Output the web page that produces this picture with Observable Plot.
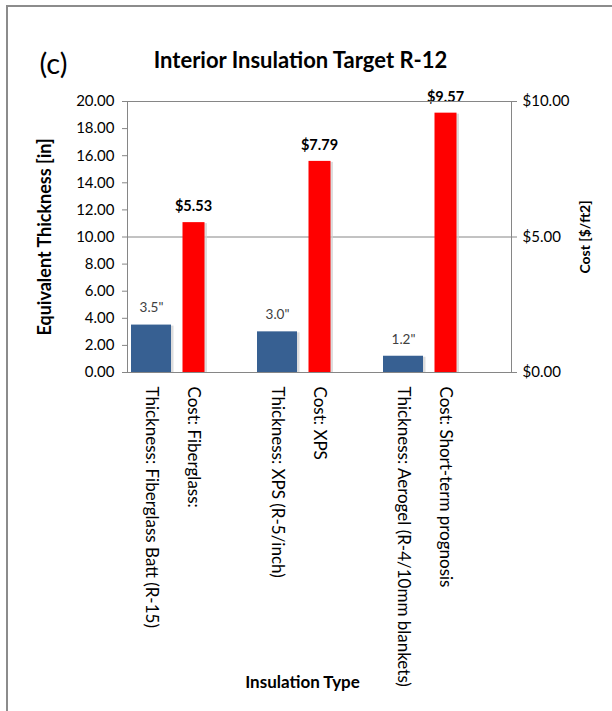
<!DOCTYPE html>
<html>
<head>
<meta charset="utf-8">
<script src="https://cdn.jsdelivr.net/npm/d3@7"></script>
<script src="https://cdn.jsdelivr.net/npm/@observablehq/plot@0.6"></script>
<style>
  html, body { margin: 0; padding: 0; background: #fff; }
  #wrap { position: relative; width: 612px; height: 711px; overflow: hidden; }
  #edge { position: absolute; left: 6px; top: 5px; right: -4px; bottom: -4px;
          border-left: 2px solid #8c8c8c; border-top: 2px solid #8c8c8c; }
  #wrap svg { position: absolute; left: 0; top: 0; }
</style>
</head>
<body>
<div id="wrap"><div id="edge"></div></div>
<script>
// Insulation options: equivalent thickness (in) and installed cost ($/ft²)
const thicknessLabels = [
  "Thickness: Fiberglass Batt (R-15)",
  "Thickness: XPS (R-5/inch)",
  "Thickness: Aerogel (R-4/10mm blankets)"
];
const costLabels = [
  "Cost: Fiberglass:",
  "Cost: XPS",
  "Cost: Short-term prognosis"
];
const thickness = [3.5, 3.0, 1.2];
const cost = [5.53, 7.79, 9.57];

const leftTicks = [0, 2, 4, 6, 8, 10, 12, 14, 16, 18, 20];
const costTicks = [0, 5, 10];

const panelTag = "(c)";
const title = "Interior Insulation Target R-12";
const yTitle = "Equivalent Thickness [in]";
const y2Title = "Cost [$/ft2]";
const xTitle = "Insulation Type";

// secondary axis: $10 spans the same height as 20 in
const costToY = 2;

// category slots: thickness, cost, then an empty spacer slot per group
const slots = [];
thicknessLabels.forEach((t, i) => { slots.push(t, costLabels[i], " ".repeat(i + 1)); });

const thickRows = thicknessLabels.map((label, i) => ({label, value: thickness[i]}));
const costRows = costLabels.map((label, i) => ({label, value: cost[i]}));

const font = "Lato, 'Open Sans', sans-serif";
const gray = "#868686";

const chart = Plot.plot({
  width: 612,
  height: 711,
  marginLeft: 127,
  marginRight: 101,
  marginTop: 101,
  marginBottom: 339,
  style: {fontFamily: font, fontSize: "15px", color: "#000", background: "transparent"},
  x: {domain: slots, padding: 0},
  y: {domain: [0, 20]},
  marks: [
    Plot.gridY(costTicks.map(c => c * costToY), {stroke: gray, strokeOpacity: 1}),
    // soft drop shadows
    Plot.barY(thickRows, {x: "label", y: "value", fill: "#cfcfcf", fillOpacity: 0.7,
      insetLeft: 1, insetRight: 1, dx: 2.5, dy: 1}),
    Plot.barY(costRows, {x: "label", y: d => d.value * costToY, fill: "#cfcfcf", fillOpacity: 0.7,
      insetLeft: 10.5, insetRight: 9.5, dx: 2.5, dy: 1}),
    Plot.barY(thickRows, {x: "label", y: "value", fill: "#376092", insetLeft: 1, insetRight: 1}),
    Plot.barY(costRows, {x: "label", y: d => d.value * costToY, fill: "#ff0000",
      insetLeft: 10.5, insetRight: 9.5}),
    Plot.text(thickRows, {x: "label", y: "value", text: d => d.value.toFixed(1) + '"',
      dy: -17, fill: "#404040", fontSize: 13.5}),
    Plot.text(costRows, {x: "label", y: d => d.value * costToY, text: d => "$" + d.value.toFixed(2),
      dy: -16, fill: "#000", fontWeight: "bold", fontSize: 14.5}),
    Plot.frame({stroke: gray}),
    Plot.axisY(leftTicks, {anchor: "left", tickSize: 5, tickPadding: 8, stroke: gray,
      tickFormat: d => d.toFixed(2), fontSize: 15, fill: "#000", label: null}),
    Plot.axisY(costTicks.map(c => c * costToY), {anchor: "right", tickSize: 5, tickPadding: 6, stroke: gray,
      tickFormat: d => "$" + (d / costToY).toFixed(2), fontSize: 15, fill: "#000", label: null}),
    Plot.axisX({anchor: "bottom", tickSize: 0, tickPadding: 14, tickRotate: 90,
      fontSize: 17, fill: "#000", label: null}),
    // titles
    Plot.text([panelTag], {frameAnchor: "top-left", dx: -88, dy: -28, textAnchor: "start",
      lineAnchor: "bottom", fontSize: 29, fill: "#000"}),
    Plot.text([title], {frameAnchor: "top", dx: -19, dy: -34, lineAnchor: "bottom",
      fontSize: 22, fontWeight: "bold", fill: "#000"}),
    Plot.text([yTitle], {frameAnchor: "left", dx: -82, rotate: -90, textAnchor: "middle",
      fontSize: 18, fontWeight: "bold", fill: "#000"}),
    Plot.text([y2Title], {frameAnchor: "right", dx: 74, rotate: -90, textAnchor: "middle",
      fontSize: 14, fontWeight: "bold", fill: "#000"}),
    Plot.text([xTitle], {frameAnchor: "bottom", dx: -17, dy: 315, lineAnchor: "bottom",
      fontSize: 17, fontWeight: "bold", fill: "#000"})
  ]
});

document.getElementById("wrap").appendChild(chart);
</script>
</body>
</html>
